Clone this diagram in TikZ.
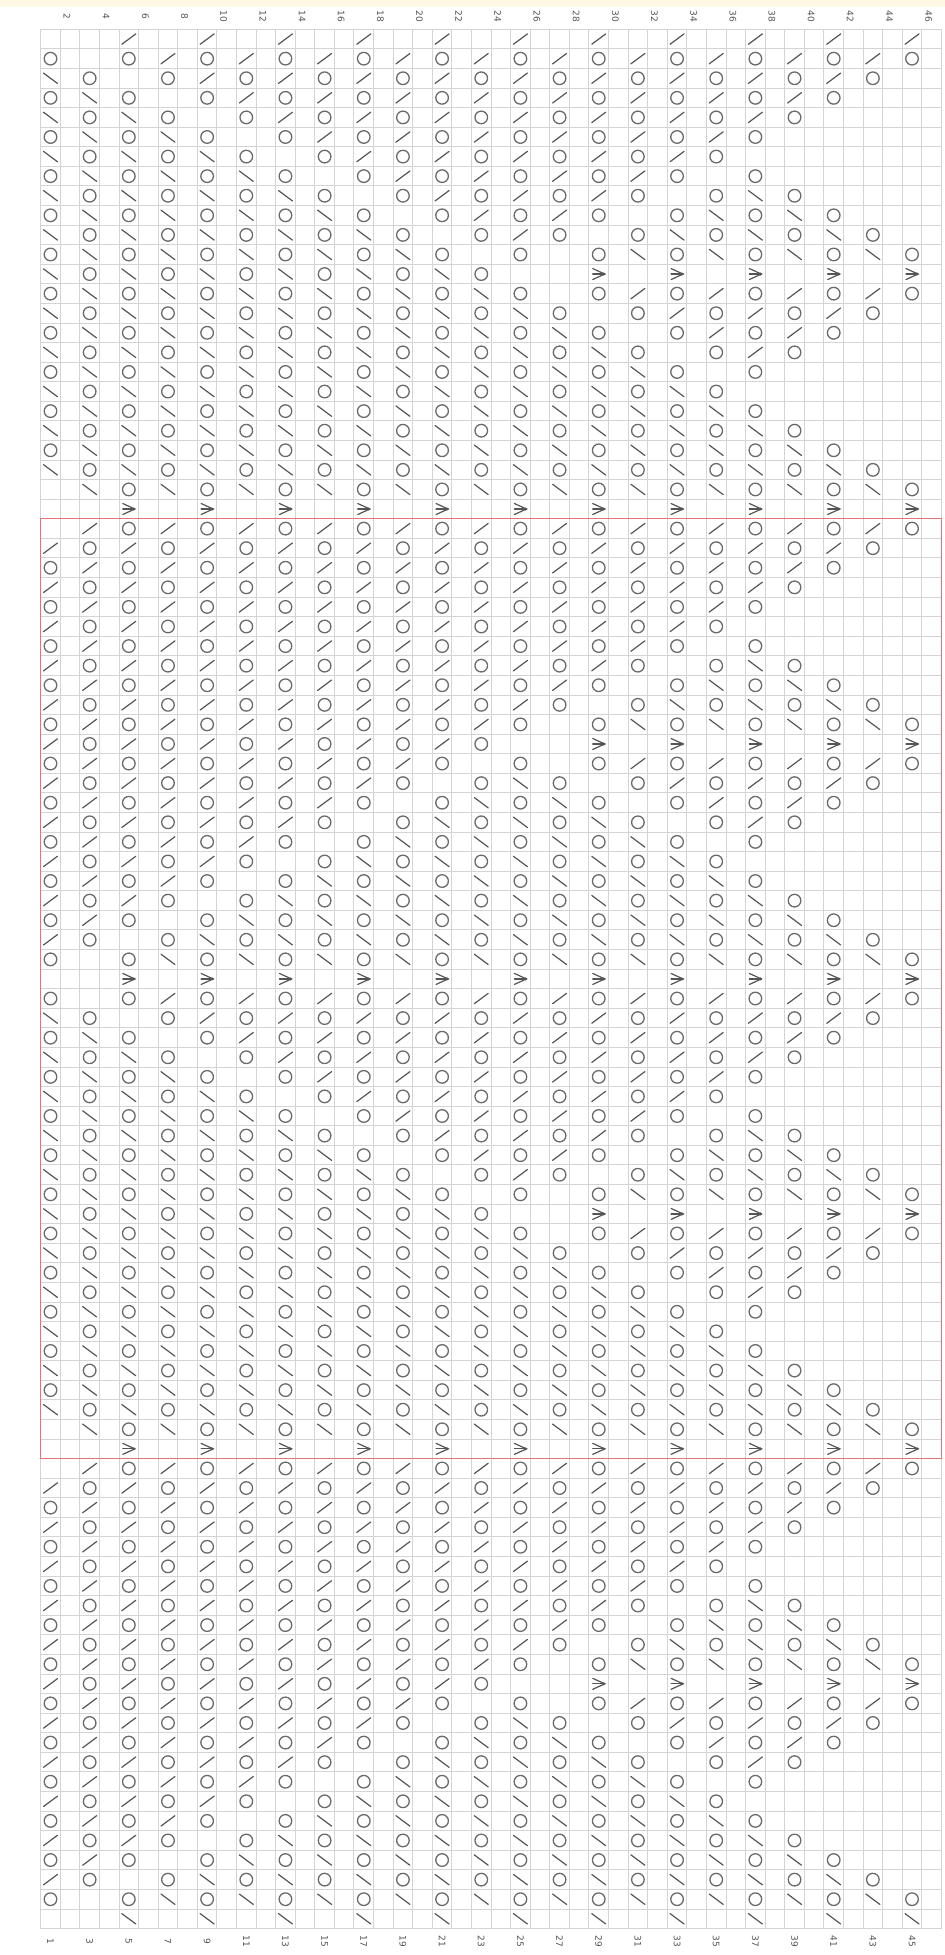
\documentclass[tikz,border=0pt]{standalone}
\usepackage{fontspec}
\setmainfont{DejaVu Sans}
\definecolor{gridc}{HTML}{D4D4D4}
\definecolor{symc}{HTML}{6A6A6A}
\definecolor{decc}{HTML}{555555}
\definecolor{redc}{HTML}{E57373}
\definecolor{bandc}{HTML}{FFF8E5}
\definecolor{labc}{HTML}{555555}
\def\gx{40.7}
\def\gy{29.3}
\def\cw{19.58}
\def\gxr{941.38}
\def\gyb{1928.56}
\expandafter\def\csname chartrowE\endcsname{0,0,2,0,2,0,2,0,2,0,2,0,2,0,2,0,2,0,2,0,2,0,2}
\expandafter\def\csname chartrowA\endcsname{0,0,4,0,4,0,4,0,4,0,4,0,4,0,4,0,4,0,4,0,4,0,4}
\expandafter\def\csname chartrow2\endcsname{1,0,1,2,1,2,1,2,1,2,1,2,1,2,1,2,1,2,1,2,1,2,1}
\expandafter\def\csname chartrow3\endcsname{3,1,0,1,2,1,2,1,2,1,2,1,2,1,2,1,2,1,2,1,2,1,0}
\expandafter\def\csname chartrow4\endcsname{1,3,1,0,1,2,1,2,1,2,1,2,1,2,1,2,1,2,1,2,1,0,0}
\expandafter\def\csname chartrow5\endcsname{3,1,3,1,0,1,2,1,2,1,2,1,2,1,2,1,2,1,2,1,0,0,0}
\expandafter\def\csname chartrow6\endcsname{1,3,1,3,1,0,1,2,1,2,1,2,1,2,1,2,1,2,1,0,0,0,0}
\expandafter\def\csname chartrow7\endcsname{3,1,3,1,3,1,0,1,2,1,2,1,2,1,2,1,2,1,0,0,0,0,0}
\expandafter\def\csname chartrow8\endcsname{1,3,1,3,1,3,1,0,1,2,1,2,1,2,1,2,1,0,1,0,0,0,0}
\expandafter\def\csname chartrow9\endcsname{3,1,3,1,3,1,3,1,0,1,2,1,2,1,2,1,0,1,3,1,0,0,0}
\expandafter\def\csname chartrow10\endcsname{1,3,1,3,1,3,1,3,1,0,1,2,1,2,1,0,1,3,1,3,1,0,0}
\expandafter\def\csname chartrow11\endcsname{3,1,3,1,3,1,3,1,3,1,0,1,2,1,0,1,3,1,3,1,3,1,0}
\expandafter\def\csname chartrow12\endcsname{1,3,1,3,1,3,1,3,1,3,1,0,1,0,1,3,1,3,1,3,1,3,1}
\expandafter\def\csname chartrow13\endcsname{3,1,3,1,3,1,3,1,3,1,3,1,0,0,4,0,4,0,4,0,4,0,4}
\expandafter\def\csname chartrow14\endcsname{1,3,1,3,1,3,1,3,1,3,1,3,1,0,1,2,1,2,1,2,1,2,1}
\expandafter\def\csname chartrow15\endcsname{3,1,3,1,3,1,3,1,3,1,3,1,3,1,0,1,2,1,2,1,2,1,0}
\expandafter\def\csname chartrow16\endcsname{1,3,1,3,1,3,1,3,1,3,1,3,1,3,1,0,1,2,1,2,1,0,0}
\expandafter\def\csname chartrow17\endcsname{3,1,3,1,3,1,3,1,3,1,3,1,3,1,3,1,0,1,2,1,0,0,0}
\expandafter\def\csname chartrow18\endcsname{1,3,1,3,1,3,1,3,1,3,1,3,1,3,1,3,1,0,1,0,0,0,0}
\expandafter\def\csname chartrow19\endcsname{3,1,3,1,3,1,3,1,3,1,3,1,3,1,3,1,3,1,0,0,0,0,0}
\expandafter\def\csname chartrow20\endcsname{1,3,1,3,1,3,1,3,1,3,1,3,1,3,1,3,1,3,1,0,0,0,0}
\expandafter\def\csname chartrow21\endcsname{3,1,3,1,3,1,3,1,3,1,3,1,3,1,3,1,3,1,3,1,0,0,0}
\expandafter\def\csname chartrow22\endcsname{1,3,1,3,1,3,1,3,1,3,1,3,1,3,1,3,1,3,1,3,1,0,0}
\expandafter\def\csname chartrow23\endcsname{3,1,3,1,3,1,3,1,3,1,3,1,3,1,3,1,3,1,3,1,3,1,0}
\expandafter\def\csname chartrow24\endcsname{0,3,1,3,1,3,1,3,1,3,1,3,1,3,1,3,1,3,1,3,1,3,1}
\newcommand\symO[2]{\draw[symO] (#1,#2) circle[radius=6.3pt];}
\newcommand\symR[2]{\draw[symD] (#1-7,#2+5.2) -- (#1+7,#2-5.2);}
\newcommand\symL[2]{\draw[symD] (#1-7,#2-5.2) -- (#1+7,#2+5.2);}
\newcommand\symA[2]{\draw[symD,line join=miter] (#1-6,#2-5.5) -- (#1+6,#2) -- (#1-6,#2+5.5); \draw[symD] (#1-6,#2) -- (#1+6,#2); \fill[decc] (#1+5,#2) circle[radius=1.6pt];}
\newcommand\drawchartrow[3]{%
  \edef\rowlist{\csname chartrow#2\endcsname}%
  \pgfmathsetmacro\cy{\gy+\cw*(#1-0.5)}%
  \foreach \s [count=\j] in \rowlist {%
    \pgfmathsetmacro\cx{\gx+\cw*(2*\j-1.5)}%
    \ifcase\s\relax
    \or \symO{\cx}{\cy}%
    \or \ifnum#3=0 \symR{\cx}{\cy}\else\symL{\cx}{\cy}\fi
    \or \ifnum#3=0 \symL{\cx}{\cy}\else\symR{\cx}{\cy}\fi
    \or \symA{\cx}{\cy}%
    \fi
  }%
}
\begin{document}
\begin{tikzpicture}[x=1pt,y=-1pt,
  gridline/.style={draw=gridc, line width=1pt},
  symO/.style={draw=symc, line width=1.3pt},
  symD/.style={draw=decc, line width=1.2pt, line cap=round},
  redbox/.style={draw=redc, line width=1.3pt},
  lab/.style={font=\fontsize{9}{10}\selectfont, text=labc, inner sep=0pt}]
\useasboundingbox (0,0) rectangle (945,1955);
\fill[white] (0,0) rectangle (945,1955);
\fill[bandc] (0,0) rectangle (945,7);
% grid
\foreach \i in {0,...,46} \draw[gridline] ({\gx+\i*\cw},\gy) -- ({\gx+\i*\cw},\gyb);
\foreach \i in {0,...,97} \draw[gridline] (\gx,{\gy+\i*\cw}) -- (\gxr,{\gy+\i*\cw});
% repeat box
\draw[redbox] (\gx,{\gy+25*\cw}) rectangle (\gxr,{\gy+73*\cw});
% symbols
\drawchartrow{1}{E}{0}
\drawchartrow{25}{A}{0}
\drawchartrow{49}{A}{0}
\drawchartrow{73}{A}{0}
\drawchartrow{97}{E}{1}
\foreach \r in {2,...,24} {%
  \drawchartrow{\r}{\r}{0}%
  \drawchartrow{50-\r}{\r}{1}%
  \drawchartrow{48+\r}{\r}{0}%
  \drawchartrow{98-\r}{\r}{1}%
}
% labels
\foreach \k in {2,4,...,46} \node[lab,rotate=-90] (t\k) at ({\gx+\cw*(\k-0.5)-3},16.5) {\k};
\foreach \k in {1,3,...,45} \node[lab,rotate=-90] (b\k) at ({\gx+\cw*(\k-0.5)},1941.5) {\k};
\end{tikzpicture}
\end{document}
